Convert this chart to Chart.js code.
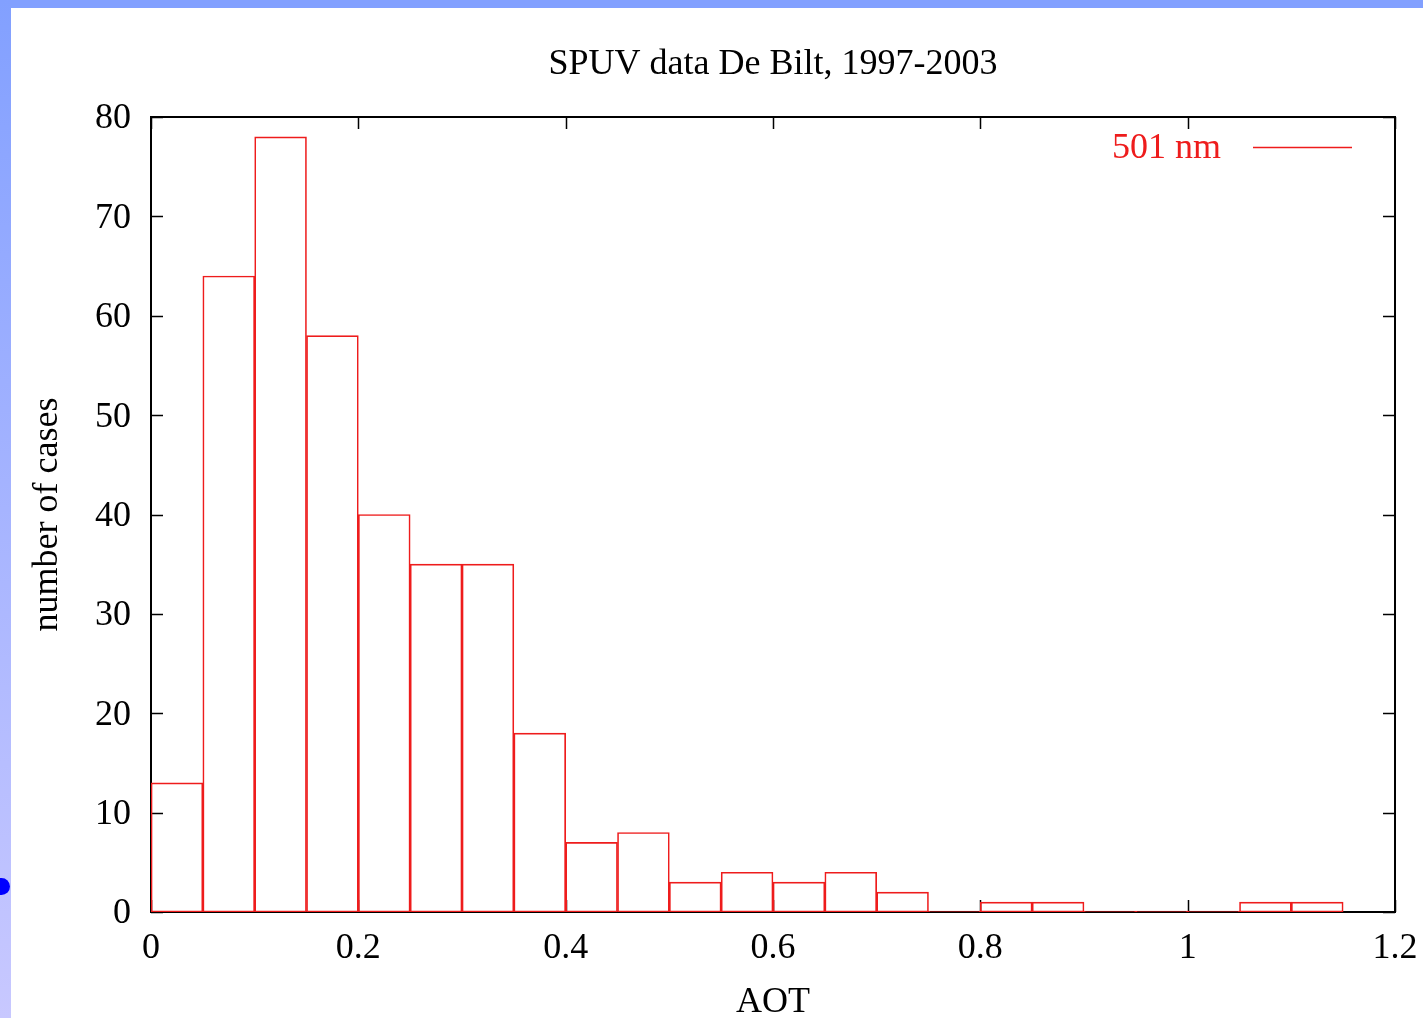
<!DOCTYPE html>
<html>
<head>
<meta charset="utf-8">
<script src="https://cdn.jsdelivr.net/npm/chart.js@4/dist/chart.umd.min.js"></script>
<style>
  html, body { margin: 0; padding: 0; background: #ffffff; overflow: hidden; }
  body { width: 1423px; height: 1018px; position: relative; }
  #topStrip { position: absolute; left: 0; top: 0; width: 1423px; height: 8px; background: #82a0ff; }
  #leftStrip { position: absolute; left: 0; top: 0; width: 11px; height: 1018px;
    background: linear-gradient(to bottom, #82a0ff 0%, #a6b4ff 50%, #c8c8ff 100%); }
  #dot { position: absolute; left: -7px; top: 878px; width: 17px; height: 17px; border-radius: 50%; background: #0000ff; }
  #wrap { position: absolute; left: 11px; top: 8px; width: 1412px; height: 1010px; }
</style>
</head>
<body>
<div id="topStrip"></div>
<div id="leftStrip"></div>
<div id="dot"></div>
<div id="wrap"><canvas id="c" width="1412" height="1010"></canvas></div>
<script>
// ---- data ----
const chartTitle = "SPUV data De Bilt, 1997-2003";
const xAxisTitle = "AOT";
const yAxisTitle = "number of cases";
const seriesLabel = "501 nm";
const binWidth = 0.05;
const binLeft = [0, 0.05, 0.1, 0.15, 0.2, 0.25, 0.3, 0.35, 0.4, 0.45, 0.5, 0.55, 0.6, 0.65, 0.7, 0.75, 0.8, 0.85, 0.9, 0.95, 1.0, 1.05, 1.1];
const counts  = [13, 64, 78, 58, 40, 35, 35, 18, 7, 8, 3, 4, 3, 4, 2, 0, 1, 1, 0, 0, 0, 1, 1];
const xTicks = [0, 0.2, 0.4, 0.6, 0.8, 1, 1.2];
const xTickLabels = ["0", "0.2", "0.4", "0.6", "0.8", "1", "1.2"];
const yTicks = [0, 10, 20, 30, 40, 50, 60, 70, 80];
const yTickLabels = ["0", "10", "20", "30", "40", "50", "60", "70", "80"];

const RED = '#ee1c1c';
const FONT = "'Liberation Serif', 'DejaVu Serif', serif";

const framePlugin = {
  id: 'frame',
  beforeDatasetsDraw(chart) {
    const {ctx, chartArea: a, scales: {x, y}} = chart;
    ctx.save();
    ctx.strokeStyle = '#000';
    ctx.lineWidth = 2;
    ctx.strokeRect(a.left, a.top, a.right - a.left, a.bottom - a.top);
    ctx.lineWidth = 1.5;
    const tl = 12;
    ctx.beginPath();
    x.ticks.forEach(t => {
      const px = Math.round(x.getPixelForValue(t.value)) + 0.5;
      ctx.moveTo(px, a.bottom); ctx.lineTo(px, a.bottom - tl);
      ctx.moveTo(px, a.top); ctx.lineTo(px, a.top + tl);
    });
    y.ticks.forEach(t => {
      const py = Math.round(y.getPixelForValue(t.value)) + 0.5;
      ctx.moveTo(a.left, py); ctx.lineTo(a.left + tl, py);
      ctx.moveTo(a.right, py); ctx.lineTo(a.right - tl, py);
    });
    ctx.stroke();
    ctx.restore();
  },
  afterDraw(chart) {
    const {ctx} = chart;
    ctx.save();
    ctx.font = "36px " + FONT;
    ctx.fillStyle = RED;
    ctx.textAlign = 'right';
    ctx.textBaseline = 'middle';
    const ly = 140;
    ctx.fillText(seriesLabel, 1210, ly + 1);
    ctx.strokeStyle = RED;
    ctx.lineWidth = 1.5;
    ctx.beginPath();
    ctx.moveTo(1242, ly - 0.5); ctx.lineTo(1341, ly - 0.5);
    ctx.stroke();
    ctx.restore();
  }
};

new Chart(document.getElementById('c'), {
  type: 'bar',
  data: {
    datasets: [{
      label: seriesLabel,
      data: binLeft.map((b, i) => ({x: b + binWidth / 2, y: counts[i]})),
      backgroundColor: 'rgba(0,0,0,0)',
      borderColor: RED,
      borderWidth: 1,
      borderSkipped: false,
      minBarLength: 1,
      barPercentage: 1,
      categoryPercentage: 1
    }]
  },
  options: {
    responsive: false,
    animation: false,
    layout: { padding: { left: 0, top: 0, right: 28, bottom: 0 } },
    plugins: {
      legend: { display: false },
      tooltip: { enabled: false },
      title: {
        display: true,
        fullSize: false,
        text: chartTitle,
        color: '#000',
        font: { family: FONT, size: 36, weight: 'normal', lineHeight: 1 },
        padding: { top: 39, bottom: 34 }
      }
    },
    scales: {
      x: {
        type: 'linear',
        offset: false,
        min: 0, max: 1.2,
        grid: { display: false },
        border: { display: false },
        afterBuildTicks: s => { s.ticks = xTicks.map(v => ({value: v})); },
        ticks: {
          color: '#000',
          font: { family: FONT, size: 36, lineHeight: 1 },
          padding: 11,
          maxRotation: 0,
          autoSkip: false,
          callback: (v, i) => xTickLabels[i]
        },
        title: {
          display: true, text: xAxisTitle, color: '#000',
          font: { family: FONT, size: 36, lineHeight: 1 },
          padding: { top: 0, bottom: -3 }
        },
        afterFit: s => { s.height = 106; s.paddingLeft = 0; s.paddingRight = 0; }
      },
      y: {
        type: 'linear',
        min: 0, max: 80,
        grid: { display: false },
        border: { display: false },
        afterBuildTicks: s => { s.ticks = yTicks.map(v => ({value: v})); },
        ticks: {
          color: '#000',
          font: { family: FONT, size: 36, lineHeight: 1 },
          padding: 12,
          labelOffset: 2,
          autoSkip: false,
          callback: (v, i) => yTickLabels[i]
        },
        title: {
          display: true, text: yAxisTitle, color: '#000',
          font: { family: FONT, size: 36, lineHeight: 1 },
          padding: { top: 19, bottom: 0 }
        },
        afterFit: s => { s.width = 140; s.paddingTop = 0; s.paddingBottom = 0; }
      }
    }
  },
  plugins: [framePlugin]
});
</script>
</body>
</html>
